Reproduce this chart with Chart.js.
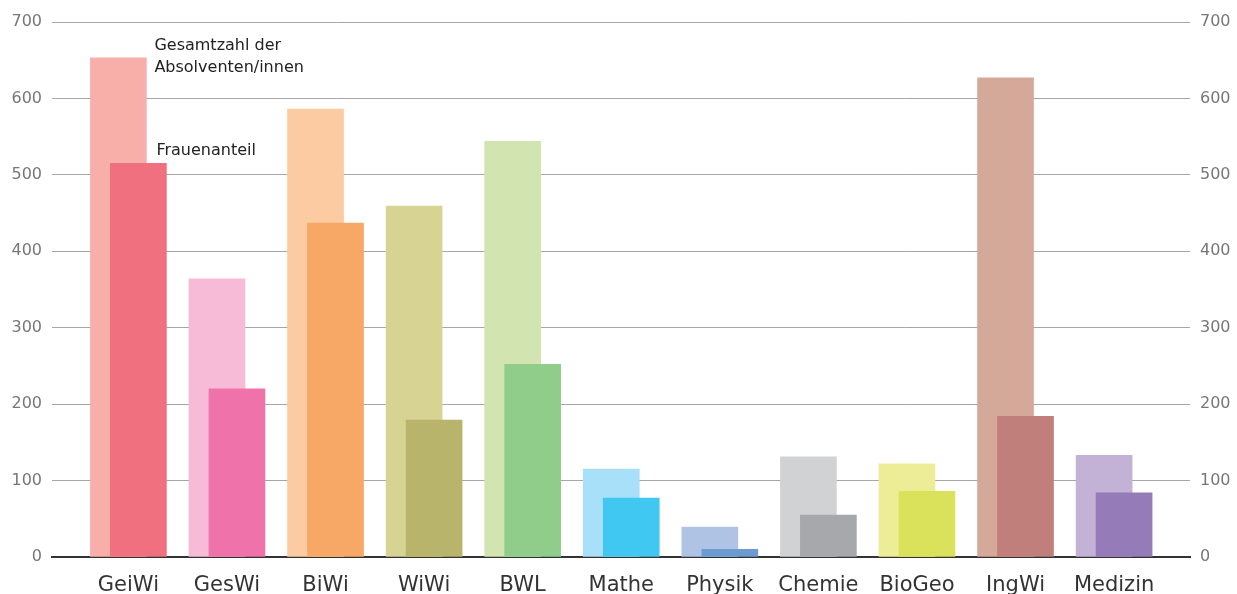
<!DOCTYPE html>
<html><head><meta charset="utf-8">
<script src="https://cdn.jsdelivr.net/npm/chart.js@4/dist/chart.umd.min.js"></script>
<style>html,body{margin:0;padding:0;background:#fff;overflow:hidden}#wrap{width:1237px;height:594px;position:relative}</style>
</head><body><div id="wrap"><canvas id="c" width="1237" height="594"></canvas></div>
<script>
const categories = ['GeiWi','GesWi','BiWi','WiWi','BWL','Mathe','Physik','Chemie','BioGeo','IngWi','Medizin'];
const totalGraduates = [653,364,586,459,544,115,39,131,122,627,133];
const femaleGraduates = [515,220,437,179,252,77,10,55,86,184,84];
const yTicks = [0,100,200,300,400,500,600,700];
const totalColors = ['#F8AFA9','#F7BBD7','#FCCBA2','#D6D393','#D2E5B0','#A8DFF9','#AFC4E5','#D1D2D4','#EDED98','#D4A999','#C3B1D6'];
const femaleColors = ['#F07080','#F072AB','#F8A866','#B9B46B','#90CC8A','#40C8F2','#6C9BD2','#A7A8AC','#DAE15A','#C07F7A','#957BB7'];
const labelTotal = ['Gesamtzahl der','Absolventen/innen'];
const labelFemale = 'Frauenanteil';

const SHIFT = 0.1014;
const FONT = '"DejaVu Sans", Verdana, sans-serif';

const annot = {
  id:'annot',
  afterDatasetsDraw(chart){
    const ctx = chart.ctx;
    const tb = chart.getDatasetMeta(0).data[0];
    const fb = chart.getDatasetMeta(1).data[0];
    if(!tb||!fb) return;
    const t = tb.getProps(['x','y','width'],true);
    const f = fb.getProps(['x','y','width'],true);
    ctx.save();
    ctx.font = '16px ' + FONT;
    ctx.fillStyle = '#222';
    ctx.textBaseline = 'alphabetic';
    ctx.textAlign = 'left';
    const tx = t.x + t.width/2 + 8;
    ctx.fillText(labelTotal[0], tx, t.y - 8);
    ctx.fillText(labelTotal[1], tx, t.y + 14);
    ctx.fillText(labelFemale, tx + 2, f.y - 8);
    ctx.restore();
  }
};

new Chart(document.getElementById('c'), {
  type:'bar',
  data:{
    datasets:[
      {label:'Gesamt', data: totalGraduates.map((v,i)=>({x:i-SHIFT,y:v})), backgroundColor: totalColors, barThickness:56, grouped:false, order:2, yAxisID:'y'},
      {label:'Frauen', data: femaleGraduates.map((v,i)=>({x:i+SHIFT,y:v})), backgroundColor: femaleColors, barThickness:56, grouped:false, order:1, yAxisID:'y'}
    ]
  },
  options:{
    responsive:false, animation:false, devicePixelRatio:1,
    layout:{padding:{top:22,left:0,right:0,bottom:0}},
    plugins:{legend:{display:false}, tooltip:{enabled:false}},
    scales:{
      x:{
        type:'linear', min:-0.775, max:10.77, offset:false, bounds:'data',
        grid:{display:false, drawTicks:false, offset:false},
        border:{display:true, color:'#333', width:2},
        afterBuildTicks: s => { s.ticks = categories.map((c,i)=>({value:i})); },
        afterFit: s => { s.height = 37; },
        ticks:{autoSkip:false, maxRotation:0, padding:16, color:'#333', font:{family:FONT,size:21},
          callback: v => categories[Math.round(v)]}
      },
      y:{
        position:'left', min:0, max:700,
        afterBuildTicks: s => { s.ticks = yTicks.map(v=>({value:v})); },
        afterFit: s => { s.width = 52; },
        grid:{color:'#a6a6a6', lineWidth:1, drawTicks:false},
        border:{display:false},
        ticks:{padding:10, color:'#777', font:{family:FONT,size:16}}
      },
      y2:{
        position:'right', min:0, max:700,
        afterBuildTicks: s => { s.ticks = yTicks.map(v=>({value:v})); },
        afterFit: s => { s.width = 47; },
        grid:{display:false, drawTicks:false},
        border:{display:false},
        ticks:{padding:10, color:'#777', font:{family:FONT,size:16}}
      }
    }
  },
  plugins:[annot]
});
</script></body></html>
